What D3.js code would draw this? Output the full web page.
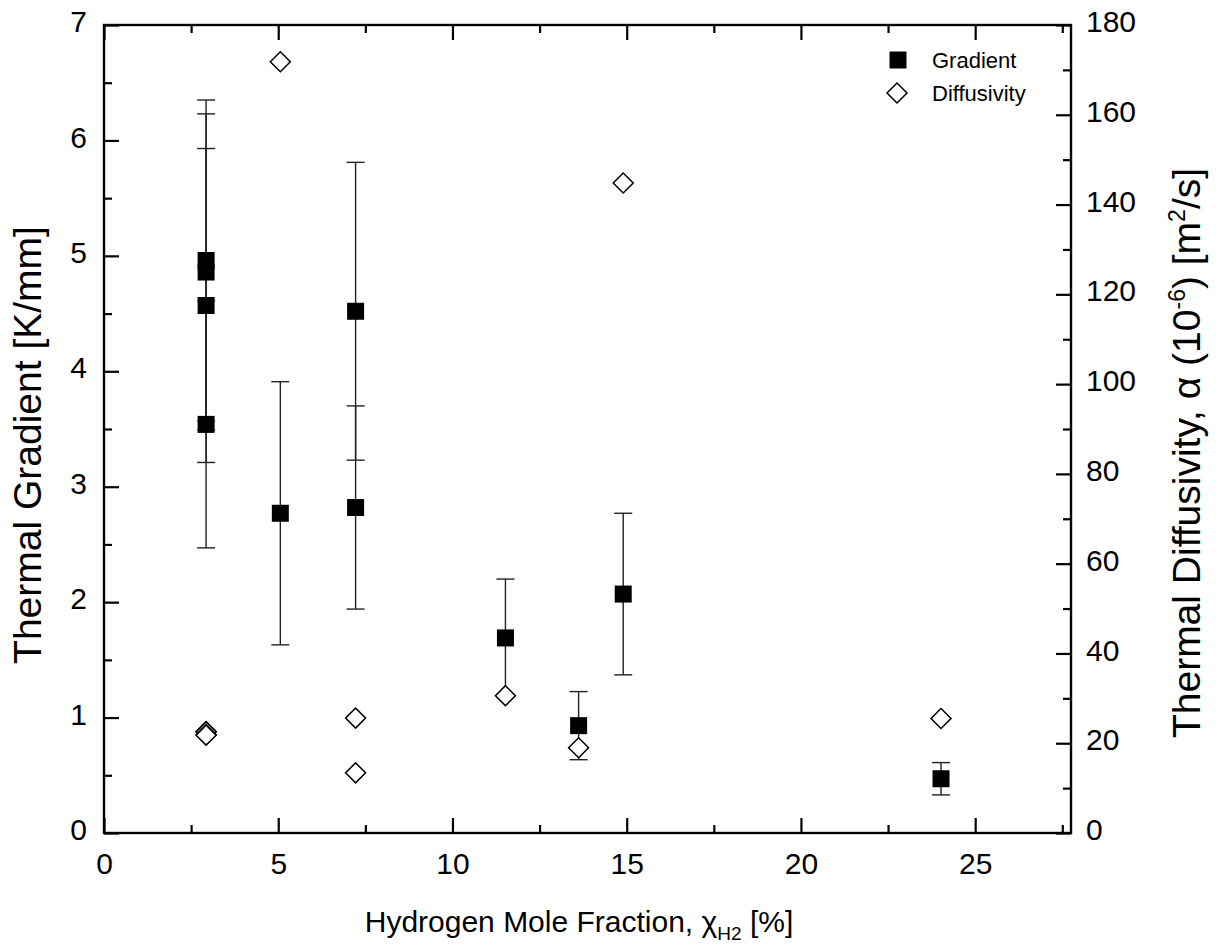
<!DOCTYPE html>
<html>
<head>
<meta charset="utf-8">
<script src="https://cdn.jsdelivr.net/npm/d3@7"></script>
<style>
  body { margin: 0; background: #fff; }
  svg { display: block; }
  text { font-family: "Liberation Sans", Arial, sans-serif; fill: #000; }
</style>
</head>
<body>
<svg id="chart" width="1218" height="948"></svg>
<script>
// Hydrogen mole fraction (%) for each measurement
const gradX = [2.93, 2.93, 2.93, 2.93, 5.06, 7.22, 7.22, 11.52, 13.62, 14.9, 24.02];
// Thermal gradient (K/mm) and its uncertainty
const gradY = [4.96, 4.86, 4.57, 3.54, 2.77, 4.52, 2.82, 1.69, 0.93, 2.07, 0.47];
const gradErr = [1.39, 1.37, 1.36, 1.07, 1.14, 1.29, 0.88, 0.51, 0.295, 0.70, 0.14];
// Thermal diffusivity (1e-6 m^2/s)
const diffX = [2.93, 2.93, 2.93, 2.93, 5.06, 7.22, 7.22, 11.52, 13.62, 14.9, 24.02];
const diffY = [22.6, 22.5, 21.9, 21.8, 171.8, 25.6, 13.4, 30.6, 19.0, 144.8, 25.5];

const xMajor = [0, 5, 10, 15, 20, 25];
const xMinor = [2.5, 7.5, 12.5, 17.5, 22.5, 27.5];
const yLMajor = [0, 1, 2, 3, 4, 5, 6, 7];
const yLMinor = [0.5, 1.5, 2.5, 3.5, 4.5, 5.5, 6.5];
const yRMajor = [0, 20, 40, 60, 80, 100, 120, 140, 160, 180];
const yRMinor = [10, 30, 50, 70, 90, 110, 130, 150, 170];
const legendLabels = ["Gradient", "Diffusivity"];

const svg = d3.select("#chart");
const box = { left: 104, right: 1071, top: 25, bottom: 833 };

const x = d3.scaleLinear().domain([0, 27.75]).range([box.left, box.right]);
const yL = d3.scaleLinear().domain([0, 7]).range([box.bottom, box.top]);
const yR = d3.scaleLinear().domain([0, 180]).range([box.bottom, box.top]);

const MAJ = 15, MIN = 8, TICKW = 2.2, FS = 30;

function styleAxis(g, dyOverride) {
  g.select(".domain").remove();
  g.selectAll(".tick line").attr("stroke", "#000").attr("stroke-width", TICKW);
  g.selectAll(".tick text").attr("font-size", FS).attr("font-family", "Liberation Sans, Arial, sans-serif").attr("fill", "#000");
  if (dyOverride) g.selectAll(".tick text").attr("dy", dyOverride);
}

// bottom axis
svg.append("g").attr("transform", `translate(0,${box.bottom})`)
  .call(d3.axisBottom(x).tickValues(xMajor).tickFormat(d3.format("d")).tickSizeInner(-MAJ).tickSizeOuter(0).tickPadding(20))
  .call(g => styleAxis(g));
svg.append("g").attr("transform", `translate(0,${box.bottom})`)
  .call(d3.axisBottom(x).tickValues(xMinor).tickFormat("").tickSizeInner(-MIN).tickSizeOuter(0))
  .call(g => styleAxis(g));
// top axis (ticks only)
svg.append("g").attr("transform", `translate(0,${box.top})`)
  .call(d3.axisTop(x).tickValues(xMajor).tickFormat("").tickSizeInner(-MAJ).tickSizeOuter(0))
  .call(g => styleAxis(g));
svg.append("g").attr("transform", `translate(0,${box.top})`)
  .call(d3.axisTop(x).tickValues(xMinor).tickFormat("").tickSizeInner(-MIN).tickSizeOuter(0))
  .call(g => styleAxis(g));
// left axis
svg.append("g").attr("transform", `translate(${box.left},0)`)
  .call(d3.axisLeft(yL).tickValues(yLMajor).tickFormat(d3.format("d")).tickSizeInner(-MAJ).tickSizeOuter(0).tickPadding(17))
  .call(g => styleAxis(g, "0.22em"));
svg.append("g").attr("transform", `translate(${box.left},0)`)
  .call(d3.axisLeft(yL).tickValues(yLMinor).tickFormat("").tickSizeInner(-MIN).tickSizeOuter(0))
  .call(g => styleAxis(g));
// right axis
svg.append("g").attr("transform", `translate(${box.right},0)`)
  .call(d3.axisRight(yR).tickValues(yRMajor).tickFormat(d3.format("d")).tickSizeInner(-MAJ).tickSizeOuter(0).tickPadding(15))
  .call(g => styleAxis(g, "0.22em"));
svg.append("g").attr("transform", `translate(${box.right},0)`)
  .call(d3.axisRight(yR).tickValues(yRMinor).tickFormat("").tickSizeInner(-MIN).tickSizeOuter(0))
  .call(g => styleAxis(g));

// plot frame
svg.append("rect")
  .attr("x", box.left).attr("y", box.top)
  .attr("width", box.right - box.left).attr("height", box.bottom - box.top)
  .attr("fill", "none").attr("stroke", "#000").attr("stroke-width", 2.4);

// gradient error bars
const gradData = gradX.map((v, i) => ({ x: v, y: gradY[i], e: gradErr[i] }));
const CAP = 9;
const eb = svg.append("g").attr("stroke", "#222").attr("stroke-width", 1.4).attr("fill", "none");
gradData.forEach(d => {
  const cx = x(d.x), y1 = yL(d.y + d.e), y0 = yL(d.y - d.e);
  eb.append("line").attr("x1", cx).attr("x2", cx).attr("y1", y1).attr("y2", y0);
  eb.append("line").attr("x1", cx - CAP).attr("x2", cx + CAP).attr("y1", y1).attr("y2", y1);
  eb.append("line").attr("x1", cx - CAP).attr("x2", cx + CAP).attr("y1", y0).attr("y2", y0);
});

const squareSym = d3.symbol().type(d3.symbolSquare).size(17 * 17);
const diamondSym = d3.symbol().type(d3.symbolSquare).size(200);

// gradient markers
svg.append("g").selectAll("path").data(gradData).join("path")
  .attr("d", squareSym)
  .attr("transform", d => `translate(${x(d.x)},${yL(d.y)})`)
  .attr("fill", "#000");

// diffusivity markers
const diffData = diffX.map((v, i) => ({ x: v, y: diffY[i] }));
svg.append("g").selectAll("path").data(diffData).join("path")
  .attr("d", diamondSym)
  .attr("transform", d => `translate(${x(d.x)},${yR(d.y)}) rotate(45)`)
  .attr("fill", "#fff").attr("stroke", "#000").attr("stroke-width", 1.5);

// legend
const lg = svg.append("g");
lg.append("path").attr("d", squareSym).attr("transform", "translate(898,60)").attr("fill", "#000");
lg.append("path").attr("d", diamondSym).attr("transform", "translate(897,93) rotate(45)")
  .attr("fill", "#fff").attr("stroke", "#000").attr("stroke-width", 1.5);
lg.append("text").attr("x", 932).attr("y", 68).attr("font-size", 22).text(legendLabels[0]);
lg.append("text").attr("x", 932).attr("y", 101).attr("font-size", 22).text(legendLabels[1]);

// x axis title
const xt = svg.append("text").attr("x", 579).attr("y", 932).attr("text-anchor", "middle").attr("font-size", 30);
xt.append("tspan").text("Hydrogen Mole Fraction, χ");
xt.append("tspan").attr("font-size", 19).attr("dy", 8).text("H2");
xt.append("tspan").attr("dy", -8).text(" [%]");

// left y title
svg.append("text")
  .attr("transform", "translate(41,445) rotate(-90)")
  .attr("text-anchor", "middle").attr("font-size", 39)
  .text("Thermal Gradient [K/mm]");

// right y title
const rt = svg.append("text")
  .attr("transform", "translate(1200,453) rotate(-90)")
  .attr("text-anchor", "middle").attr("font-size", 39);
rt.append("tspan").text("Thermal Diffusivity, α (10");
rt.append("tspan").attr("font-size", 23).attr("dy", -15).text("-6");
rt.append("tspan").attr("dy", 15).text(") [m");
rt.append("tspan").attr("font-size", 23).attr("dy", -15).text("2");
rt.append("tspan").attr("dy", 15).text("/s]");
</script>
</body>
</html>
